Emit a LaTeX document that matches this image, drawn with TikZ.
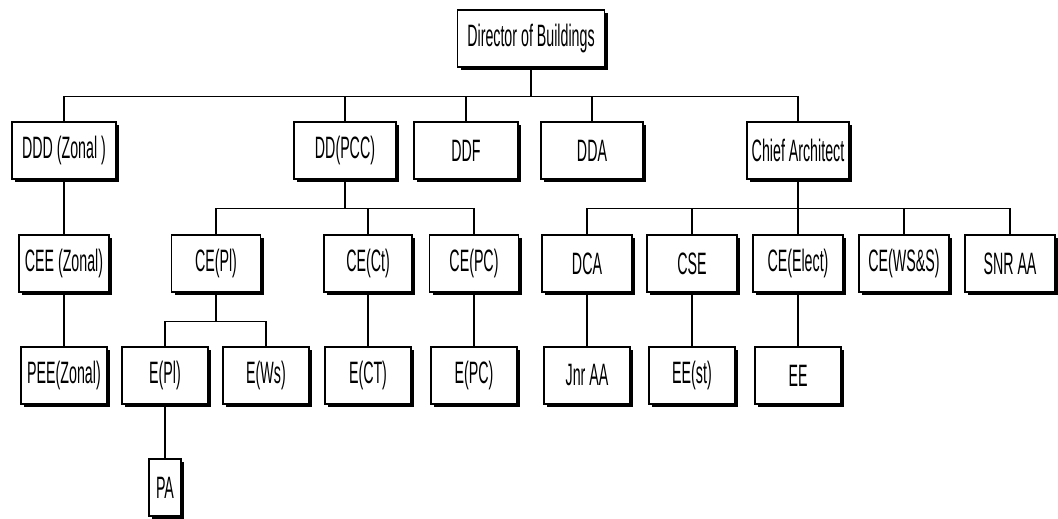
\documentclass[tikz,border=0pt]{standalone}
\usepackage{fontspec}
\setmainfont[FakeStretch=0.46]{Liberation Sans}
\usetikzlibrary{shadows}
\newdimen\pxu \pxu=0.025cm
\tikzset{
  post/.style={draw,line width=0.9pt,fill=white,inner sep=0pt,
    minimum height=57\pxu,font=\fontsize{22}{24}\selectfont,
    drop shadow={shadow xshift=2.2pt,shadow yshift=-2.2pt,fill=black,opacity=1}},
  link/.style={line width=0.8pt}
}
\providecommand{\Post}[4]{
\node[post,minimum width=#3\pxu] (#1) at (#2) {#4};
}
\providecommand{\Branch}[2]{
\draw[link] (#1.south) -- ++(0,29) -| (#2.north);
}
\providecommand{\Under}[2]{
\draw[link] (#1.south) -- (#2.north);
}

\begin{document}
\begin{tikzpicture}[x=\pxu,y=-\pxu]
\useasboundingbox (0,0) rectangle (1058,519);
% director
\Post{dob}{531,38.5}{147}{Director of Buildings}
% deputies
\Post{ddd}{64,150.5}{104}{DDD (Zonal )}
\Post{ddpcc}{345,150.5}{102}{DD(PCC)}
\Post{ddf}{466,150.5}{104}{DDF}
\Post{dda}{592,150.5}{102}{DDA}
\Post{ca}{798,150.5}{102}{Chief Architect}
% chief engineers
\Post{cee}{64,263.5}{90}{CEE (Zonal)}
\Post{cepl}{216,263.5}{89}{CE(Pl)}
\Post{cect}{368,263.5}{88}{CE(Ct)}
\Post{cepc}{474,263.5}{89}{CE(PC)}
\Post{dca}{587,263.5}{90}{DCA}
\Post{cse}{692,263.5}{90}{CSE}
\Post{ceel}{798,263.5}{90}{CE(Elect)}
\Post{cews}{904,263.5}{90}{CE(WS\&S)}
\Post{snr}{1010,263.5}{90}{SNR AA}
% engineers
\Post{pee}{64,375.5}{86}{PEE(Zonal)}
\Post{epl}{165,375.5}{86}{E(Pl)}
\Post{ews}{266,375.5}{86}{E(Ws)}
\Post{ect}{368,375.5}{86}{E(CT)}
\Post{epc}{474,375.5}{86}{E(PC)}
\Post{jnr}{587,375.5}{86}{Jnr AA}
\Post{eest}{692,375.5}{86}{EE(st)}
\Post{ee}{798,375.5}{86}{EE}
\Post{pa}{165,487.5}{32}{PA}

% lines
\Branch{dob}{ddd}\Branch{dob}{ddpcc}\Branch{dob}{ddf}\Branch{dob}{dda}\Branch{dob}{ca}
\Branch{ddpcc}{cepl}\Branch{ddpcc}{cect}\Branch{ddpcc}{cepc}
\Branch{ca}{dca}\Branch{ca}{cse}\Branch{ca}{ceel}\Branch{ca}{cews}\Branch{ca}{snr}
\Branch{cepl}{epl}\Branch{cepl}{ews}
\Under{ddd}{cee}\Under{cee}{pee}\Under{cect}{ect}\Under{cepc}{epc}
\Under{dca}{jnr}\Under{cse}{eest}\Under{ceel}{ee}\Under{epl}{pa}
\end{tikzpicture}
\end{document}
